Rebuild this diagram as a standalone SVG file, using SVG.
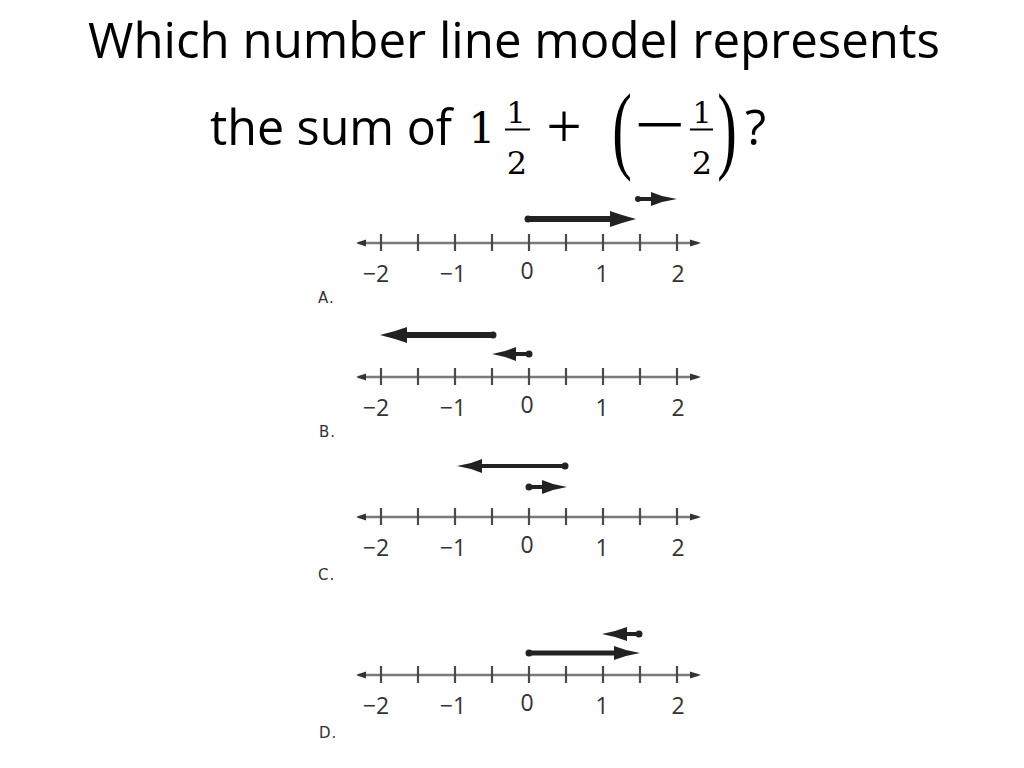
<svg xmlns="http://www.w3.org/2000/svg" xmlns:xlink="http://www.w3.org/1999/xlink" width="1024" height="768" viewBox="0 0 1024 768">
<style>
.title{font-family:"Open Sans","Noto Sans",sans-serif;font-size:49px;fill:#000}
.math{font-family:"DejaVu Serif",serif;fill:#000}
.sym{font-family:"Liberation Serif",serif;fill:#000}
.bar{stroke:#000;stroke-width:2}
.axisline{stroke:#7a7a7a;stroke-width:2.5}
.tick{stroke:#4a4a4a;stroke-width:2.2}
.axisend{fill:#333}
.lab{font-family:"Open Sans","Noto Sans",sans-serif;font-size:23px;fill:#333;text-anchor:middle}
.opt{font-family:"DejaVu Sans",sans-serif;font-size:15px;fill:#333;letter-spacing:1px}
.shaft{stroke:#222;fill:none}
.head{fill:#222}
.dot{fill:#222}
</style>
<defs>
<g id="axis">
<line class="axisline" x1="358" y1="0" x2="698" y2="0"/>
<polygon class="axisend" points="356,0 366,-3.5 366,3.5"/>
<polygon class="axisend" points="701,0 690,-3.5 690,3.5"/>
<line class="tick" x1="381" y1="-9" x2="381" y2="8"/>
<line class="tick" x1="418" y1="-9" x2="418" y2="8"/>
<line class="tick" x1="455" y1="-9" x2="455" y2="8"/>
<line class="tick" x1="492" y1="-9" x2="492" y2="8"/>
<line class="tick" x1="529" y1="-9" x2="529" y2="8"/>
<line class="tick" x1="566" y1="-9" x2="566" y2="8"/>
<line class="tick" x1="603" y1="-9" x2="603" y2="8"/>
<line class="tick" x1="640" y1="-9" x2="640" y2="8"/>
<line class="tick" x1="677" y1="-9" x2="677" y2="8"/>
<text class="lab" x="376" y="39">−2</text>
<text class="lab" x="453" y="39">−1</text>
<text class="lab" x="527" y="36">0</text>
<text class="lab" x="602" y="39">1</text>
<text class="lab" x="678" y="39">2</text>
</g>
</defs>

<g id="title">
<text class="title" x="88" y="58" textLength="852" lengthAdjust="spacingAndGlyphs">Which number line model represents</text>
<text class="title" x="210" y="145" textLength="242" lengthAdjust="spacingAndGlyphs">the sum of</text>
<text class="math" x="482" y="143" font-size="43" text-anchor="middle">1</text>
<text class="math" x="516" y="123" font-size="30" text-anchor="middle">1</text>
<line class="bar" x1="505" y1="129.5" x2="530" y2="129.5"/>
<text class="math" x="517" y="174" font-size="32" text-anchor="middle">2</text>
<text class="sym" x="564" y="148" font-size="63" text-anchor="middle">+</text>
<text class="sym" transform="translate(622,160.5) scale(0.6,1)" font-size="98" text-anchor="middle">(</text>
<text class="sym" transform="translate(660,146.5) scale(1.35,1)" font-size="67" text-anchor="middle">−</text>
<text class="math" x="702" y="123" font-size="30" text-anchor="middle">1</text>
<line class="bar" x1="690" y1="129.5" x2="713" y2="129.5"/>
<text class="math" x="702" y="174" font-size="32" text-anchor="middle">2</text>
<text class="sym" transform="translate(727,160.5) scale(0.6,1)" font-size="98" text-anchor="middle">)</text>
<text class="title" x="745" y="145">?</text>
</g>

<g id="option-a">
<use xlink:href="#axis" href="#axis" x="0" y="243"/>
<text class="opt" x="318" y="303">A.</text>
<g id="a-arrow1">
<line class="shaft" x1="528" y1="219" x2="614" y2="219" stroke-width="6"/>
<circle class="dot" cx="528" cy="219" r="3.5"/>
<polygon class="head" points="610,211 622,215 636,219 622,223 610,227"/>
</g>
<g id="a-arrow2">
<line class="shaft" x1="637" y1="199" x2="654" y2="199" stroke-width="4"/>
<circle class="dot" cx="638" cy="199" r="3"/>
<polygon class="head" points="651,192 662,196 677,199 662,202 651,206"/>
</g>
</g>

<g id="option-b">
<use xlink:href="#axis" href="#axis" x="0" y="377"/>
<text class="opt" x="319" y="437">B.</text>
<g id="b-arrow1">
<line class="shaft" x1="493" y1="335" x2="404" y2="335" stroke-width="6"/>
<circle class="dot" cx="493" cy="335" r="3.5"/>
<polygon class="head" points="407,327 395,331 380,335 395,339 407,343"/>
</g>
<g id="b-arrow2">
<line class="shaft" x1="530" y1="354" x2="512" y2="354" stroke-width="4"/>
<circle class="dot" cx="529" cy="354" r="3.5"/>
<polygon class="head" points="516,347 505,351 492,354 505,357 516,361"/>
</g>
</g>

<g id="option-c">
<use xlink:href="#axis" href="#axis" x="0" y="517"/>
<text class="opt" x="318" y="580">C.</text>
<g id="c-arrow1">
<line class="shaft" x1="565" y1="466" x2="478" y2="466" stroke-width="4"/>
<circle class="dot" cx="565" cy="466" r="3.5"/>
<polygon class="head" points="482,459 471,463 457,466 471,469 482,473"/>
</g>
<g id="c-arrow2">
<line class="shaft" x1="528" y1="487" x2="546" y2="487" stroke-width="4"/>
<circle class="dot" cx="529" cy="487" r="3.5"/>
<polygon class="head" points="542,480 553,484 567,487 553,490 542,494"/>
</g>
</g>

<g id="option-d">
<use xlink:href="#axis" href="#axis" x="0" y="675"/>
<text class="opt" x="319" y="738">D.</text>
<g id="d-arrow1">
<line class="shaft" x1="640" y1="634" x2="622" y2="634" stroke-width="4"/>
<circle class="dot" cx="639" cy="634" r="3.5"/>
<polygon class="head" points="627,627 615,631 602,634 615,637 627,641"/>
</g>
<g id="d-arrow2">
<line class="shaft" x1="529" y1="653" x2="618" y2="653" stroke-width="5"/>
<circle class="dot" cx="529" cy="653" r="3.5"/>
<polygon class="head" points="614,646 626,650 640,653 626,656 614,660"/>
</g>
</g>
</svg>
